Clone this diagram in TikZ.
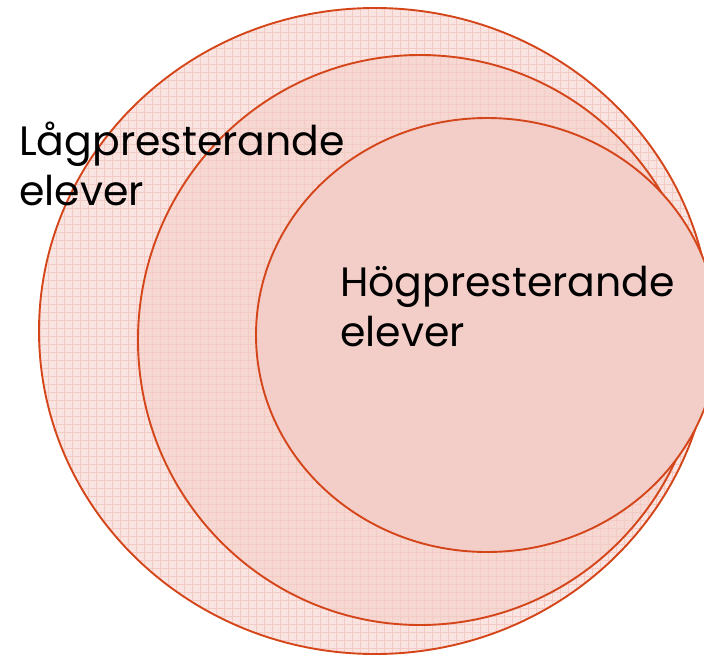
\documentclass[tikz,border=0pt]{standalone}
\usepackage{fontspec}
\setmainfont{Poppins}
\usetikzlibrary{patterns}
\definecolor{rand}{HTML}{D4461A}
\definecolor{rosa}{HTML}{F3CEC9}
\definecolor{mellanrosa}{HTML}{F6D7D2}
\definecolor{ljusrosa}{HTML}{FAE4E1}
\definecolor{rutfarg}{HTML}{F3CBC5}
\pgfdeclarepatternformonly{rutnat}{\pgfqpoint{-1pt}{-1pt}}{\pgfqpoint{9pt}{9pt}}{\pgfqpoint{8pt}{8pt}}{
  \pgfsetlinewidth{0.6pt}
  \pgfpathmoveto{\pgfqpoint{0pt}{0pt}}\pgfpathlineto{\pgfqpoint{8.1pt}{0pt}}
  \pgfpathmoveto{\pgfqpoint{0pt}{0pt}}\pgfpathlineto{\pgfqpoint{0pt}{8.1pt}}
  \pgfusepath{stroke}}
\begin{document}
\begin{tikzpicture}[x=1pt,y=-1pt,
  ring/.style={draw=rand,line width=1.9pt},
  rutig/.style={preaction={fill=#1},preaction={pattern=rutnat,pattern color=rutfarg}},
  etikett/.style={anchor=base west,align=left,inner sep=0pt,font=\fontsize{41}{50}\selectfont}]
  \useasboundingbox (0,0) rectangle (704,656);
  \begin{scope}
    \clip (0,0) rectangle (704,656);
    \draw[ring,rutig=ljusrosa] (375,331) ellipse[x radius=336,y radius=323];
    \draw[ring,rutig=mellanrosa] (420,340) ellipse[x radius=282,y radius=285];
    \filldraw[ring,fill=rosa] (487,335) ellipse[x radius=231,y radius=217];
  \end{scope}
  \node[etikett] (lag) at (19,205) {Lågpresterande\\elever};
  \node[etikett] (hog) at (340,346) {Högpresterande\\elever};
\end{tikzpicture}
\end{document}
